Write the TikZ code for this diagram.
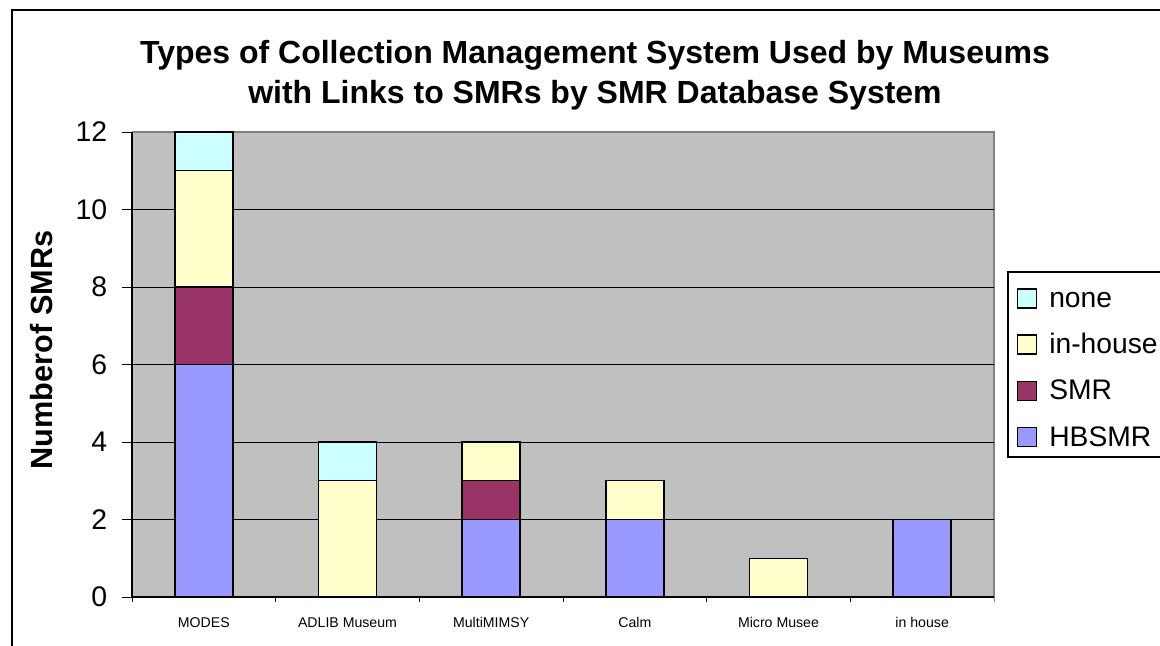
\documentclass[tikz,border=0pt]{standalone}
\usepackage{fontspec}
\setmainfont{Liberation Sans}
\usepackage{xcolor}
\definecolor{plotgrey}{RGB}{192,192,192}
\definecolor{framegrey}{RGB}{128,128,128}
\definecolor{cnone}{RGB}{204,255,255}
\definecolor{cinhouse}{RGB}{255,255,204}
\definecolor{csmr}{RGB}{153,51,102}
\definecolor{chbsmr}{RGB}{153,153,255}

\begin{document}
\begin{tikzpicture}[x=0.75pt,y=0.75pt,yscale=-1,xscale=1,
  barbox/.style={draw=black,line width=1.1},
  legbox/.style={draw=black,line width=0.9},
  gridln/.style={draw=black,line width=0.75},
  ticklbl/.style={font=\fontsize{21.3}{25}\selectfont,anchor=east,inner sep=0pt},
  catlbl/.style={font=\fontsize{10.6}{12}\selectfont,anchor=base,inner sep=0pt},
  leglbl/.style={font=\fontsize{21.2}{25}\selectfont,anchor=base west,inner sep=0pt},
  titlelbl/.style={font=\fontsize{24}{29}\selectfont\bfseries,anchor=base,inner sep=0pt}]
\useasboundingbox (0,0) rectangle (1160,646);

%Chart frame
\draw [line width=0.9]  (12,660) -- (12,10) -- (1175,10) ;

%Plot area
\fill [plotgrey]  (132,132) rectangle (994,597) ;
\draw [framegrey, line width=1]  (132,132) -- (994,132) -- (994,597) ;

%Grid lines
\draw [gridln]  (132,519.5) -- (994,519.5) ;
\draw [gridln]  (132,442) -- (994,442) ;
\draw [gridln]  (132,364.5) -- (994,364.5) ;
\draw [gridln]  (132,287) -- (994,287) ;
\draw [gridln]  (132,209.5) -- (994,209.5) ;

%Bars: MODES
\draw [barbox, fill=chbsmr]  (174.83,597) rectangle (232.83,364.5) ;
\draw [barbox, fill=csmr]  (174.83,364.5) rectangle (232.83,287) ;
\draw [barbox, fill=cinhouse]  (174.83,287) rectangle (232.83,170.75) ;
\draw [barbox, fill=cnone]  (174.83,170.75) rectangle (232.83,132) ;
%Bars: ADLIB Museum
\draw [barbox, fill=cinhouse]  (318.5,597) rectangle (376.5,480.75) ;
\draw [barbox, fill=cnone]  (318.5,480.75) rectangle (376.5,442) ;
%Bars: MultiMIMSY
\draw [barbox, fill=chbsmr]  (462.17,597) rectangle (520.17,519.5) ;
\draw [barbox, fill=csmr]  (462.17,519.5) rectangle (520.17,480.75) ;
\draw [barbox, fill=cinhouse]  (462.17,480.75) rectangle (520.17,442) ;
%Bars: Calm
\draw [barbox, fill=chbsmr]  (605.83,597) rectangle (663.83,519.5) ;
\draw [barbox, fill=cinhouse]  (605.83,519.5) rectangle (663.83,480.75) ;
%Bars: Micro Musee
\draw [barbox, fill=cinhouse]  (749.5,597) rectangle (807.5,558.25) ;
%Bars: in house
\draw [barbox, fill=chbsmr]  (893.17,597) rectangle (951.17,519.5) ;

%Axes
\draw [line width=0.9]  (132,132) -- (132,597) -- (994,597) ;
%Value axis ticks
\draw [line width=0.75]  (122,132) -- (132,132) ;
\draw [line width=0.75]  (122,209.5) -- (132,209.5) ;
\draw [line width=0.75]  (122,287) -- (132,287) ;
\draw [line width=0.75]  (122,364.5) -- (132,364.5) ;
\draw [line width=0.75]  (122,442) -- (132,442) ;
\draw [line width=0.75]  (122,519.5) -- (132,519.5) ;
\draw [line width=0.75]  (122,597) -- (132,597) ;
%Category axis ticks
\draw [line width=0.75]  (132,597) -- (132,602) ;
\draw [line width=0.75]  (275.67,597) -- (275.67,602) ;
\draw [line width=0.75]  (419.33,597) -- (419.33,602) ;
\draw [line width=0.75]  (563,597) -- (563,602) ;
\draw [line width=0.75]  (706.67,597) -- (706.67,602) ;
\draw [line width=0.75]  (850.33,597) -- (850.33,602) ;
\draw [framegrey, line width=0.75]  (994,597) -- (994,602) ;

% Text Node
\draw (595,63) node (title1) [titlelbl] {Types of Collection Management System Used by Museums};
% Text Node
\draw (595,103) node (title2) [titlelbl] {with Links to SMRs by SMR Database System};
% Text Node
\draw (52,350) node (ytitle) [titlelbl, font=\fontsize{23}{27}\selectfont\bfseries, rotate=90] {Numberof SMRs};

% Text Node
\draw (107.5,132) node (v12) [ticklbl] {12};
\draw (107.5,209.5) node (v10) [ticklbl] {10};
\draw (107.5,287) node (v8) [ticklbl] {8};
\draw (107.5,364.5) node (v6) [ticklbl] {6};
\draw (107.5,442) node (v4) [ticklbl] {4};
\draw (107.5,519.5) node (v2) [ticklbl] {2};
\draw (107.5,597) node (v0) [ticklbl] {0};

% Text Node
\draw (203.83,627) node (catModes) [catlbl] {MODES};
\draw (347.5,627) node (catAdlib) [catlbl] {ADLIB Museum};
\draw (491.17,627) node (catMimsy) [catlbl] {MultiMIMSY};
\draw (634.83,627) node (catCalm) [catlbl] {Calm};
\draw (778.5,627) node (catMicro) [catlbl] {Micro Musee};
\draw (922.17,627) node (catInhouse) [catlbl] {in house};

%Legend
\draw [line width=0.9]  (1175,272) -- (1008,272) -- (1008,457) -- (1175,457) ;
\draw [legbox, fill=cnone]  (1017.5,289) rectangle (1036.5,308) ;
\draw [legbox, fill=cinhouse]  (1017.5,335) rectangle (1036.5,354) ;
\draw [legbox, fill=csmr]  (1017.5,381.5) rectangle (1036.5,400.5) ;
\draw [legbox, fill=chbsmr]  (1017.5,427.5) rectangle (1036.5,446.5) ;
% Text Node
\draw (1049,307) node (legNone) [leglbl] {none};
\draw (1049,353) node (legInhouse) [leglbl] {in-house};
\draw (1049,399.5) node (legSmr) [leglbl] {SMR};
\draw (1049,446) node (legHbsmr) [leglbl] {HBSMR};

\end{tikzpicture}
\end{document}
